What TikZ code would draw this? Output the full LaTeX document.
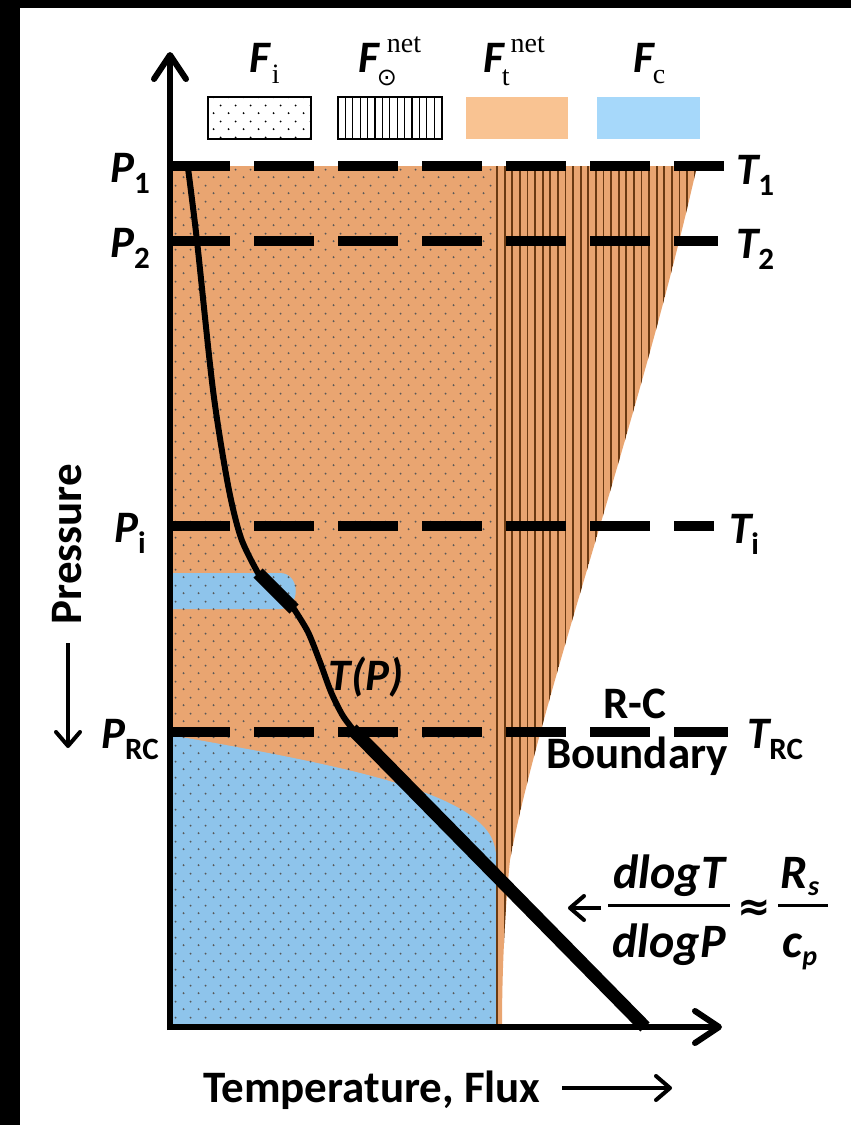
\documentclass[tikz,border=0pt]{standalone}
\usepackage{fontspec}
\setmainfont{Carlito}
\newfontfamily\serfont{Liberation Serif}
\newfontfamily\symfont{DejaVu Sans}
\usepackage{tikz}
\usepackage{xcolor}
\usetikzlibrary{positioning,arrows.meta,patterns.meta}

\definecolor{tflux}{HTML}{E9A571}
\definecolor{tleg}{HTML}{F9C392}
\definecolor{cflux}{HTML}{8EC4EB}
\definecolor{cleg}{HTML}{A6D8FA}
\definecolor{sunline}{HTML}{6A3A12}

\tikzdeclarepattern{
  name=fdots, type=uncolored,
  bottom left={(0pt,0pt)}, top right={(15pt,16pt)},
  tile size={(15pt,16pt)},
  code={\fill (3.75pt,4pt) circle (1.1pt); \fill (11.25pt,12pt) circle (1.1pt);}
}

\newcommand{\lsub}[1]{\raisebox{-11pt}{\fontsize{31}{31}\selectfont\upshape #1}}
\newcommand{\legser}{\serfont\fontsize{28}{30}\selectfont\mdseries\upshape}

\begin{document}
\begin{tikzpicture}[
          x=1pt, y=-1pt,
          lbl/.style={font=\fontsize{45}{50}\selectfont\bfseries, inner sep=0pt},
          ilbl/.style={font=\fontsize{45}{50}\selectfont\bfseries\itshape, inner sep=0pt},
          flbl/.style={font=\fontsize{48}{52}\selectfont\bfseries\itshape, inner sep=0pt},
          plevel/.style={line width=10pt, dash pattern=on 60pt off 24pt},
          axarrow/.style={line width=6pt, -{Straight Barb[length=24pt,width=32pt,round]}},
          smallarrow/.style={line width=4pt, -{Straight Barb[length=14pt,width=24pt,round]}},
          prof/.style={line width=6pt, line cap=round},
          adiab/.style={line width=13pt}
      ]
        \useasboundingbox (0,0) rectangle (851,1125);
        \fill[white] (0,0) rectangle (851,1125);
        \fill (0,0) rectangle (851,8);
        \fill (0,0) rectangle (20,1125);

        % legend
        \draw[line width=1.2pt, pattern=fdots] (208,97) rectangle (311,139);
        \draw[line width=1.2pt] (338,97) rectangle (442,139);
        \foreach \x in {345.4,352.8,...,436} \draw[line width=1.2pt] (\x,97) -- (\x,139);
        \fill[tleg] (466,97) rectangle (568,139);
        \fill[cleg] (597,97) rectangle (700,139);

        \node[ilbl, anchor=base west] (fi) at (249,72) {F\kern2pt\raisebox{-11pt}{\legser i}};
        \node[ilbl, anchor=base west] (fsun) at (358,72)
          {F\kern-2pt\raisebox{-13pt}{\symfont\fontsize{24}{26}\selectfont\mdseries\upshape ⊙}\kern-10pt\raisebox{20pt}{\legser net}};
        \node[ilbl, anchor=base west] (ft) at (483,72)
          {F\kern-2pt\raisebox{-13pt}{\legser t}\kern1pt\raisebox{20pt}{\legser net}};
        \node[ilbl, anchor=base west] (fc) at (633,72) {F\kern-1pt\raisebox{-11pt}{\legser c}};

        % flux regions
        \begin{scope}
          \clip (170,166) -- (697,166) .. controls (640,420) and (540,700) .. (510,860)
                .. controls (504,920) and (502,980) .. (502,1027) -- (170,1027) -- cycle;
          \fill[tflux] (170,160) rectangle (710,1030);
          \fill[cflux] (170,573) -- (280,573) .. controls (301,573) and (301,609) .. (280,609) -- (170,609) -- cycle;
          \fill[cflux] (170,735) .. controls (300,758) and (420,780) .. (470,815)
                .. controls (490,830) and (497,840) .. (497,870) -- (497,1027) -- (170,1027) -- cycle;
          \fill[pattern=fdots, pattern color=black!65] (170,166) rectangle (497,1027);
          \foreach \x in {497,504.6,...,700} \draw[sunline, line width=1.8pt] (\x,160) -- (\x,1030);
        \end{scope}

        % levels
        \draw[plevel] (170,166) -- (724,166);
        \draw[plevel] (170,241) -- (718,241);
        \draw[plevel] (170,526) -- (714,526);
        \draw[plevel] (170,732) -- (728,732);

        % T(P)
        \draw[prof] plot[smooth] coordinates {(188,168) (197,241) (213,390) (228,485) (241,538) (258,573)};
        \draw[adiab] (258,573) -- (294,609);
        \draw[prof] plot[smooth] coordinates {(294,609) (308,632) (320,662) (331,692) (343,716) (356,733)};
        \draw[adiab] (352,729) -- (645,1027);

        % axes
        \draw[axarrow] (170,1030) -- (170,52);
        \draw[axarrow] (167,1027) -- (722,1027);

        % labels
        \node[ilbl, anchor=base] (p1) at (130,182) {P\lsub{1}};
        \node[ilbl, anchor=base] (p2) at (130,257) {P\lsub{2}};
        \node[ilbl, anchor=base] (pi) at (130,542) {P\lsub{i}};
        \node[ilbl, anchor=base] (prc) at (130,748) {P\lsub{RC}};
        \node[ilbl, anchor=base west] (t1) at (736,184) {T\lsub{1}};
        \node[ilbl, anchor=base west] (t2) at (736,258) {T\lsub{2}};
        \node[ilbl, anchor=base west] (ti) at (729,543) {T\lsub{i}};
        \node[ilbl, anchor=base west] (trc) at (747,748) {T\lsub{RC}};

        \node[ilbl, anchor=base] (tp) at (366,690) {T(P)};
        \node[lbl, anchor=base] (rc) at (635,718) {R-C};
        \node[lbl, anchor=base] (bnd) at (637,768) {Boundary};

        \node[lbl, rotate=90] (pres) at (67,544) {Pressure};
        \coordinate (ptail) at (68,643);
        \coordinate (phead) at (68,748);
        \draw[smallarrow] (ptail) -- (phead);

        \node[lbl, anchor=base west] (tlab) at (203,1102) {Temperature, Flux};
        \coordinate (ttail) at (562,1088);
        \coordinate (thead) at (672,1088);
        \draw[smallarrow] (ttail) -- (thead);

        % lapse rate
        \node[flbl, anchor=base] (dlt) at (669,888) {dlogT};
        \node[flbl, anchor=base] (dlp) at (669,957) {dlogP};
        \draw[line width=3pt] (608,905) -- (730,905);
        \node[font=\fontsize{40}{40}\selectfont\symfont\bfseries, inner sep=0pt] (approx) at (754,910) {≈};
        \node[flbl, anchor=base] (rs) at (800,888) {R\raisebox{-7pt}{\fontsize{28}{28}\selectfont s}};
        \node[flbl, anchor=base] (cp) at (800,957) {c\raisebox{-8pt}{\fontsize{28}{28}\selectfont p}};
        \draw[line width=3pt] (778,905) -- (828,905);
        \coordinate (ftail) at (601,908);
        \coordinate (fhead) at (568,908);
        \draw[smallarrow] (ftail) -- (fhead);
      \end{tikzpicture}
\end{document}
